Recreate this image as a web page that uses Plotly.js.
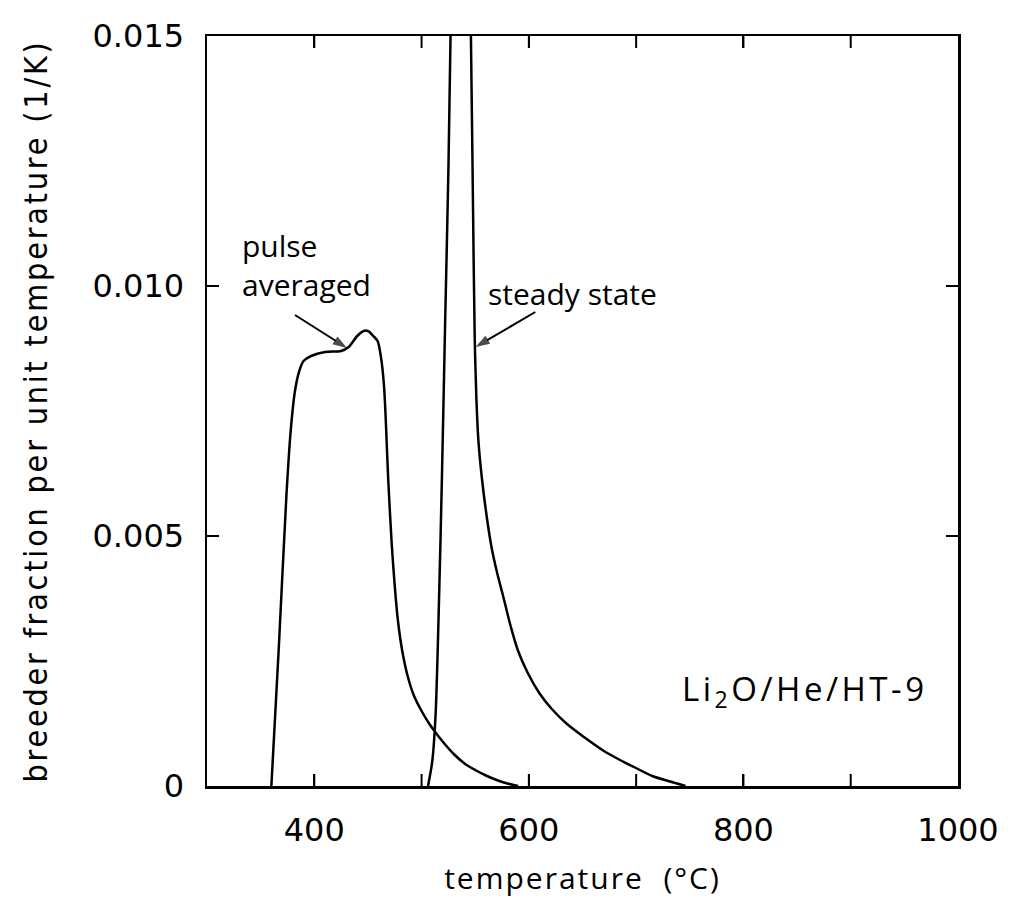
<!DOCTYPE html>
<html>
<head>
<meta charset="utf-8">
<script src="https://cdn.plot.ly/plotly-3.0.1.min.js"></script>
<style>
  html, body { margin: 0; padding: 0; background: #fff; }
  #chart { width: 1013px; height: 923px; }
  .ytitle { letter-spacing: 2.8px; }
  .xtitle { letter-spacing: 2px; }
  .annotation[data-index="2"] text { letter-spacing: 3.5px; }
</style>
</head>
<body>
<div id="chart"></div>
<script>
// Pulse averaged curve
const pulseT = [360, 367, 374, 378, 382, 386, 390, 397, 410, 425, 432, 440, 446, 450, 455, 459, 462, 465, 469, 472, 475, 478, 482, 487, 493, 500, 507, 512, 520, 530, 540, 550, 560, 570, 580, 590];
const pulseV = [0, 0.0028, 0.0058, 0.0071, 0.0079, 0.0083, 0.0085, 0.0086, 0.00868, 0.0087, 0.00878, 0.0090, 0.0091, 0.0091, 0.0090, 0.0089, 0.0086, 0.0080, 0.0061, 0.0049, 0.0040, 0.0033, 0.0027, 0.0022, 0.0018, 0.0015, 0.00125, 0.0011, 0.00088, 0.00064, 0.00045, 0.00032, 0.00021, 0.00012, 0.00005, 0];

// Steady state curve
const steadyT = [506, 510, 513, 516, 519, 522, 525, 527, 530, 537, 544, 546, 548, 549.5, 551, 553, 556, 560, 565, 570, 576, 583, 590, 599, 610, 621, 635, 652, 670, 685, 698, 715, 730, 746];
const steadyV = [0, 0.0005, 0.0014, 0.0035, 0.0062, 0.0093, 0.0123, 0.0150, 0.0180, 0.0250, 0.0180, 0.0150, 0.0115, 0.0090, 0.0078, 0.0069, 0.0062, 0.0055, 0.0048, 0.0043, 0.0038, 0.0032, 0.0027, 0.00226, 0.00185, 0.00155, 0.00125, 0.00097, 0.0007, 0.00052, 0.00038, 0.0002, 0.0001, 0];

// Pointer arrows (tail -> head) for the two labels
const pulseArrowT = [382, 430.5];
const pulseArrowV = [0.00942, 0.00876];
const steadyArrowT = [606, 550.3];
const steadyArrowV = [0.00948, 0.00878];

// Axis ticks
const xRange = [300, 1000];
const yRange = [0, 0.015];
const xMajorStart = 400, xMajorStep = 200;
const xTickMarks = [400, 500, 600, 700, 800, 900];
const yTickVals = [0, 0.005, 0.010, 0.015];
const yTickText = ['0', '0.005', '0.010', '0.015'];

// Labels
const pulseLabel = 'pulse<br>averaged';
const steadyLabel = 'steady state';
const systemLabel = 'Li<sub>2</sub>O/He/HT-9';

// Inward x tick marks (bottom and top frame edges) built from the tick list
const plotHeightPx = 750, tickLenPx = 12;
const tickLenV = (yRange[1] - yRange[0]) * tickLenPx / plotHeightPx;
const tickX = [], tickY = [];
xTickMarks.forEach(t => {
  tickX.push(t, t, null, t, t, null);
  tickY.push(yRange[0], yRange[0] + tickLenV, null, yRange[1], yRange[1] - tickLenV, null);
});

const lineStyle = {color: '#000', width: 2.5, shape: 'spline', smoothing: 0.85};
const arrowMarker = {symbol: ['circle', 'arrow'], size: [0, 15], angleref: 'previous', color: '#000', line: {width: 0}};

const traces = [
  {x: pulseT, y: pulseV, mode: 'lines', line: lineStyle, name: 'pulse averaged', hoverinfo: 'skip'},
  {x: steadyT, y: steadyV, mode: 'lines', line: lineStyle, name: 'steady state', hoverinfo: 'skip'},
  {x: pulseArrowT, y: pulseArrowV, mode: 'lines+markers', line: {color: '#000', width: 2}, marker: arrowMarker, hoverinfo: 'skip', cliponaxis: false},
  {x: steadyArrowT, y: steadyArrowV, mode: 'lines+markers', line: {color: '#000', width: 2}, marker: arrowMarker, hoverinfo: 'skip', cliponaxis: false},
  {x: tickX, y: tickY, mode: 'lines', line: {color: '#000', width: 2}, connectgaps: false, hoverinfo: 'skip', name: 'x ticks'}
];

const annFont = {family: '"Open Sans", "DejaVu Sans", sans-serif', size: 30, color: '#000'};

const layout = {
  width: 1013, height: 923,
  margin: {l: 207, r: 55, t: 36, b: 137},
  paper_bgcolor: '#fff', plot_bgcolor: '#fff',
  showlegend: false,
  font: {family: '"DejaVu Sans", sans-serif', color: '#000'},
  xaxis: {
    range: xRange,
    tickmode: 'linear', tick0: xMajorStart, dtick: xMajorStep,
    ticks: 'inside', ticklen: 12, tickwidth: 2, tickcolor: '#000',
    showline: true, linecolor: '#000', linewidth: 2.5, mirror: 'ticks',
    showgrid: false, zeroline: false,
    tickfont: {family: '"DejaVu Sans", sans-serif', size: 32, color: '#000'},
    ticklabelstandoff: 14,
    title: {text: 'temperature  (°C)', font: {family: '"Open Sans", "DejaVu Sans", sans-serif', size: 30, color: '#000'}, standoff: 20}
  },
  yaxis: {
    range: yRange,
    tickvals: yTickVals, ticktext: yTickText,
    ticks: 'inside', ticklen: 12, tickwidth: 2, tickcolor: '#000',
    showline: true, linecolor: '#000', linewidth: 2.5, mirror: 'ticks',
    showgrid: false, zeroline: false,
    tickfont: {family: '"DejaVu Sans", sans-serif', size: 32, color: '#000'},
    ticklabelstandoff: 14,
    title: {text: 'breeder fraction per unit temperature (1/K)', font: {family: '"Liberation Sans Narrow", "DejaVu Sans Condensed", sans-serif', size: 32, color: '#000'}, standoff: 36}
  },
  annotations: [
    {x: 331, y: 0.01042, xref: 'x', yref: 'y', text: pulseLabel, showarrow: false, xanchor: 'left', yanchor: 'middle', align: 'left', font: annFont},
    {x: 560, y: 0.00986, xref: 'x', yref: 'y', text: steadyLabel, showarrow: false, xanchor: 'left', yanchor: 'middle', align: 'left', font: annFont},
    {x: 741, y: 0.00192, xref: 'x', yref: 'y', text: systemLabel, showarrow: false, xanchor: 'left', yanchor: 'middle', align: 'left', font: {family: '"Open Sans", "DejaVu Sans", sans-serif', size: 33, color: '#000'}}
  ]
};

Plotly.newPlot('chart', traces, layout, {staticPlot: true, displayModeBar: false});
</script>
</body>
</html>
